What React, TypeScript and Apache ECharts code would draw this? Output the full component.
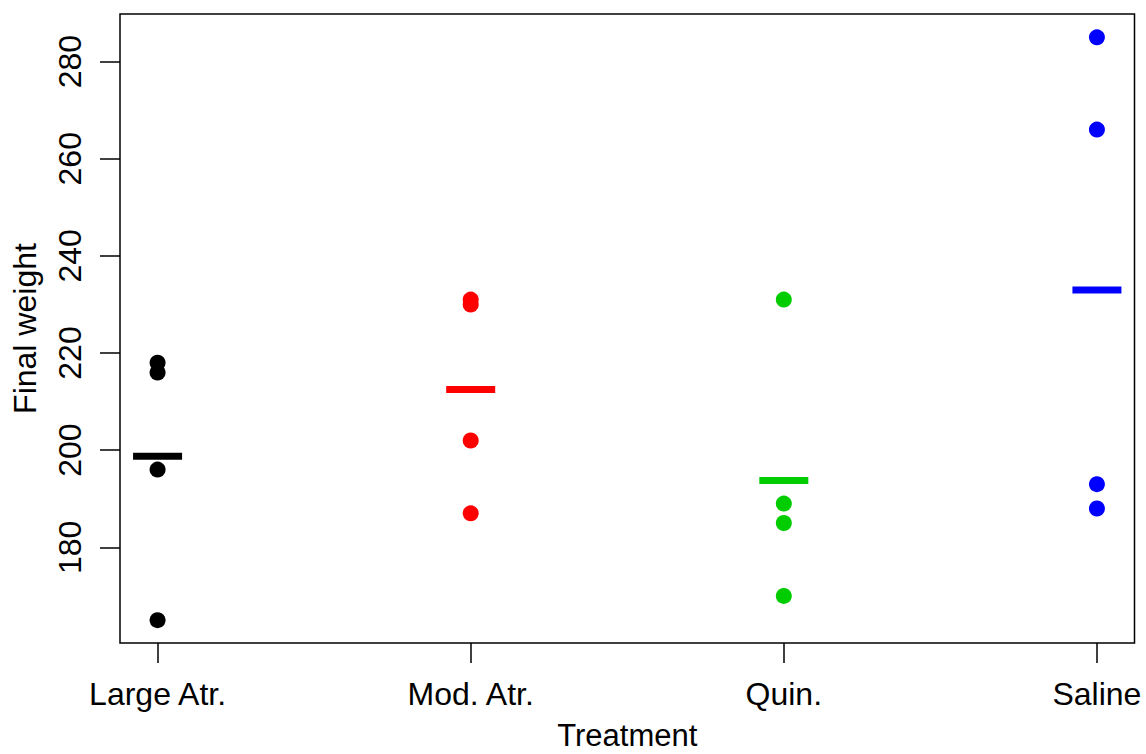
import React, { useEffect, useRef } from "react";
import * as echarts from "echarts";

const categories = ["Large Atr.", "Mod. Atr.", "Quin.", "Saline"];
const largeAtr = [218, 216, 196, 165];
const modAtr = [231, 230, 202, 187];
const quin = [231, 189, 185, 170];
const saline = [285, 266, 193, 188];
const groupMeans = [198.75, 212.5, 193.75, 233];
const groupColors = ["#000000", "#FF0000", "#00CD00", "#0000FF"];
const yTicks = [180, 200, 220, 240, 260, 280];
const xTicks = [1, 2, 3, 4];

const FONT = "'Liberation Sans', Arial, Helvetica, sans-serif";
const FS = 32;

export default function App() {
  const ref = useRef<HTMLDivElement>(null);
  useEffect(() => {
    if (!ref.current) return;
    const chart = echarts.init(ref.current, null, { renderer: "svg" });
    const groups = [largeAtr, modAtr, quin, saline];
    const pointSeries = groups.map((vals, gi) => ({
      type: "scatter",
      name: categories[gi],
      symbol: "circle",
      symbolSize: 16,
      itemStyle: { color: groupColors[gi], opacity: 1 },
      data: vals.map((v) => [gi + 1, v]),
      z: 3,
    }));
    chart.setOption({
      animation: false,
      backgroundColor: "#ffffff",
      textStyle: { fontFamily: FONT },
      grid: {
        left: 120,
        right: 11.5,
        top: 14,
        bottom: 111,
        containLabel: false,
        outerBoundsMode: "none",
        show: true,
        borderColor: "#000",
        borderWidth: 1.5,
        backgroundColor: "transparent",
      },
      xAxis: {
        type: "value",
        min: 0.88,
        max: 4.12,
        name: "Treatment",
        nameLocation: "middle",
        nameGap: 82,
        nameTextStyle: { fontSize: 31, lineHeight: 20, color: "#000", fontFamily: FONT },
        axisLine: { show: false },
        splitLine: { show: false },
        axisTick: {
          show: true,
          length: 20,
          customValues: xTicks,
          lineStyle: { color: "#000", width: 1.5 },
        },
        axisLabel: {
          customValues: xTicks,
          margin: 35,
          fontSize: FS,
          color: "#000",
          fontFamily: FONT,
          formatter: (v: number) => categories[Math.round(v) - 1] ?? "",
        },
      },
      yAxis: {
        type: "value",
        min: 160.3,
        max: 289.8,
        name: "Final weight",
        nameLocation: "middle",
        nameGap: 79,
        nameRotate: 90,
        nameTextStyle: { fontSize: FS, color: "#000", fontFamily: FONT },
        axisLine: { show: false },
        splitLine: { show: false },
        axisTick: {
          show: true,
          length: 20,
          customValues: yTicks,
          lineStyle: { color: "#000", width: 1.5 },
        },
        axisLabel: {
          customValues: yTicks,
          rotate: 90,
          margin: 34,
          fontSize: FS,
          color: "#000",
          fontFamily: FONT,
        },
      },
      series: [
        ...pointSeries,
        {
          type: "scatter",
          name: "mean",
          symbol: "rect",
          symbolSize: [49, 7],
          data: groupMeans.map((m, gi) => ({
            value: [gi + 1, m],
            itemStyle: { color: groupColors[gi], opacity: 1 },
          })),
          z: 4,
        },
      ],
    });
    return () => chart.dispose();
  }, []);
  return <div ref={ref} style={{ width: 1146, height: 754, position: "absolute", left: 0, top: 0 }} />;
}
